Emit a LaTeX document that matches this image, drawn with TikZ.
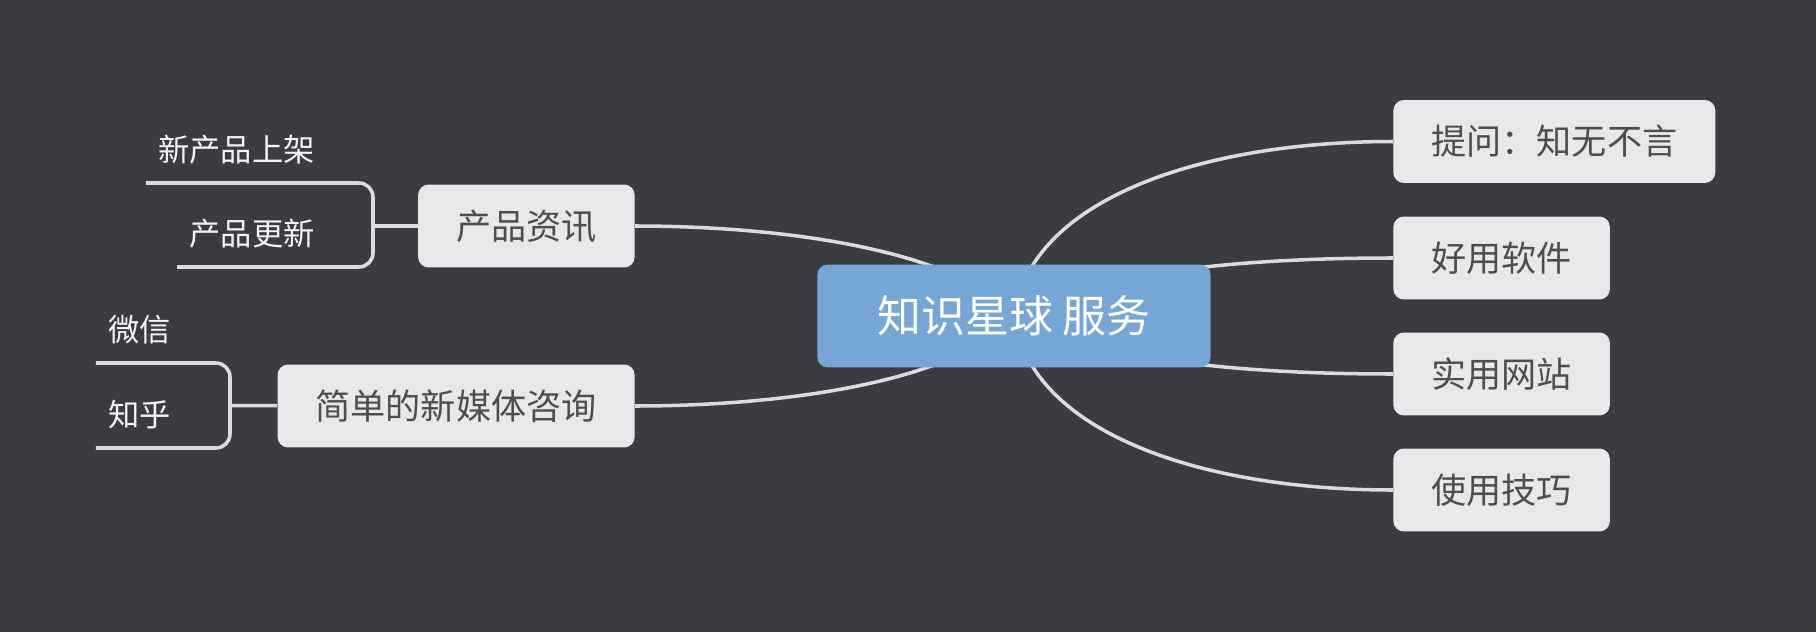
\documentclass[tikz,border=0pt]{standalone}
\usepackage{fontspec}
\setmainfont{Noto Sans CJK SC}
\usepackage{tikz}
\usetikzlibrary{positioning}
\usepackage{xcolor}
\definecolor{mmbg}{HTML}{3B3C42}
\definecolor{mmblue}{HTML}{76A6D6}
\definecolor{mmnode}{HTML}{E8E8EA}
\definecolor{mmtext}{HTML}{4D4D50}
\definecolor{mmline}{HTML}{DCDCDF}
\definecolor{mmleaf}{HTML}{F4F4F4}
\pgfdeclarelayer{bg}
\pgfdeclarelayer{edges}
\pgfsetlayers{bg,edges,main}

\begin{document}
\begin{tikzpicture}[
  x=0.02cm, y=-0.02cm,
  root/.style={
    rectangle, fill=mmblue, rounded corners=6pt, text=white,
    minimum height=2.06cm, inner xsep=1.2cm,
    font=\fontsize{25pt}{30pt}\selectfont
  },
  topic/.style={
    rectangle, fill=mmnode, rounded corners=6pt, text=mmtext,
    minimum height=1.66cm, inner xsep=0.76cm,
    font=\fontsize{20pt}{24pt}\selectfont
  },
  leaf/.style={
    anchor=south east, text=mmleaf, inner xsep=0.24cm, inner ysep=0pt,
    text depth=0.43cm, font=\fontsize{17.8pt}{21pt}\selectfont
  },
  link/.style={draw=mmline, line width=2pt},
]
  \useasboundingbox (0,0) rectangle (1816,632);
  \begin{pgfonlayer}{bg}
    \fill[mmbg] (0,0) rectangle (1816,632);
  \end{pgfonlayer}

  % Central topic
  \node[root] (root) at (1014,316) {知识星球 服务};

  % Left branches
  \node[topic, anchor=east] (cpzx) at (635,226) {产品资讯};
  \node[topic, anchor=east] (xmtzx) at (635,406) {简单的新媒体咨询};

  % Right branches
  \node[topic, anchor=west] (tiwen) at (1393,141.5) {提问：知无不言};
  \node[topic, anchor=west] (ruanjian) at (1393,258) {好用软件};
  \node[topic, anchor=west] (wangzhan) at (1393,374) {实用网站};
  \node[topic, anchor=west] (jiqiao) at (1393,490) {使用技巧};

  % Leaves
  \node[leaf] (xcp) at (327,183) {新产品上架};
  \node[leaf] (cpgx) at (327,267) {产品更新};
  \coordinate (fork1) at (373,226);
  \node[leaf] (weixin) at (183,363) {微信};
  \node[leaf] (zhihu) at (183,448) {知乎};
  \coordinate (fork2) at (230,405.5);

  % Brackets
  \draw[link, rounded corners=8pt] (xcp.south west) -| (fork1) |- (cpgx.south west);
  \draw[link] (fork1) -- (cpzx);
  \draw[link, rounded corners=8pt] (weixin.south west) -| (fork2) |- (zhihu.south west);
  \draw[link] (fork2) -- (xmtzx);

  % Curves to the centre
  \begin{pgfonlayer}{edges}
    \draw[link] (cpzx.east) .. controls (790,226) and (960,252) .. (root.center);
    \draw[link] (xmtzx.east) .. controls (790,406) and (960,380) .. (root.center);
    \draw[link] (root.center) .. controls (1030,200) and (1200,141.5) .. (tiwen.west);
    \draw[link] (root.center) .. controls (1100,270) and (1250,258) .. (ruanjian.west);
    \draw[link] (root.center) .. controls (1100,362) and (1250,374) .. (wangzhan.west);
    \draw[link] (root.center) .. controls (1030,432) and (1200,490) .. (jiqiao.west);
  \end{pgfonlayer}
\end{tikzpicture}
\end{document}
